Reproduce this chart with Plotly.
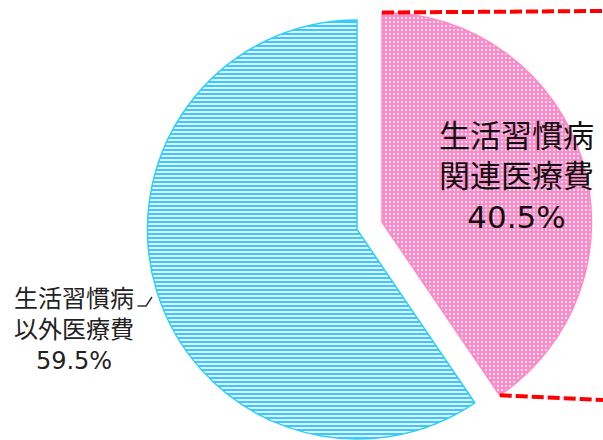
import math
import plotly.graph_objects as go

# Share of medical costs
categories = ["生活習慣病関連医療費", "生活習慣病以外医療費"]
label_lines = [["生活習慣病", "関連医療費"], ["生活習慣病", "以外医療費"]]
shares = [40.5, 59.5]

W, H = 603, 440
PINK = "#ff88c6"
BLUE = "#33ccff"
CLEAR = "rgba(0,0,0,0)"
FONT = "DejaVu Sans, Noto Sans CJK JP"

# pie geometry in pixels: radius and centres of the base pie and the
# separated (exploded) slice
R = 209.5
BASE_C = (357.0, 229.5)
PULL_C = (382.0, 222.0)


def domain(c):
    cx, cy = c
    return dict(x=[(cx - R) / W, (cx + R) / W],
                y=[(H - cy - R) / H, (H - cy + R) / H])


def px(x, y):
    return x / W, (H - y) / H


common = dict(values=shares, labels=categories, sort=False,
              direction="clockwise", rotation=0, textinfo="none",
              hoverinfo="label+percent", showlegend=False)

fig = go.Figure()

# remaining share, horizontal hatching
fig.add_trace(go.Pie(
    **common,
    domain=domain(BASE_C),
    marker=dict(
        colors=[CLEAR, "white"],
        line=dict(color=[CLEAR, BLUE], width=[0, 1.5]),
        pattern=dict(shape=["", "-"], size=4, solidity=0.55,
                     fgcolor=[CLEAR, BLUE], bgcolor=[CLEAR, "white"],
                     fillmode="replace"),
    ),
))

# lifestyle-disease share, dotted and pulled out to the right
fig.add_trace(go.Pie(
    **common,
    domain=domain(PULL_C),
    marker=dict(
        colors=[PINK, CLEAR],
        line=dict(color=[PINK, CLEAR], width=[1.5, 0]),
        pattern=dict(shape=[".", ""], size=4, solidity=0.22,
                     fgcolor=["white", CLEAR], bgcolor=[PINK, CLEAR],
                     fillmode="replace"),
    ),
))

# dashed guide lines from the separated slice's edges to the right border
theta = 2 * math.pi * shares[0] / sum(shares)
top_pt = (PULL_C[0], PULL_C[1] - R)
tip_pt = (PULL_C[0] + R * math.sin(theta), PULL_C[1] - R * math.cos(theta))
shapes = []
for (x0, y0), y1 in [(top_pt, 11.0), (tip_pt, 400.0)]:
    ax, ay = px(x0, y0)
    bx, by = px(W, y1)
    shapes.append(dict(type="line", xref="paper", yref="paper",
                       x0=ax, y0=ay, x1=bx, y1=by,
                       line=dict(color="#ff0000", width=4, dash="12px,4px")))

# leader tick next to the outside label
p1, p2, p3 = px(137.5, 306), px(146, 306), px(152, 297)
shapes.append(dict(type="path", xref="paper", yref="paper",
                   path=f"M{p1[0]},{p1[1]} L{p2[0]},{p2[1]} L{p3[0]},{p3[1]}",
                   line=dict(color="#333333", width=1.5)))

lx, ly = px(516, 176)
ox, oy = px(74, 330)
annotations = [
    dict(x=lx, y=ly, xref="paper", yref="paper", showarrow=False,
         text="<br>".join(label_lines[0] + [f"{shares[0]}%"]),
         font=dict(family=FONT, size=31, color="#111111"),
         align="center", xanchor="center", yanchor="middle"),
    dict(x=ox, y=oy, xref="paper", yref="paper", showarrow=False,
         text="<br>".join(label_lines[1] + [f"{shares[1]}%"]),
         font=dict(family=FONT, size=24, color="#222222"),
         align="center", xanchor="center", yanchor="middle"),
]

fig.update_layout(
    width=W, height=H,
    margin=dict(l=0, r=0, t=0, b=0),
    paper_bgcolor="white", plot_bgcolor="white",
    shapes=shapes, annotations=annotations,
)

fig.write_html("out.html")
